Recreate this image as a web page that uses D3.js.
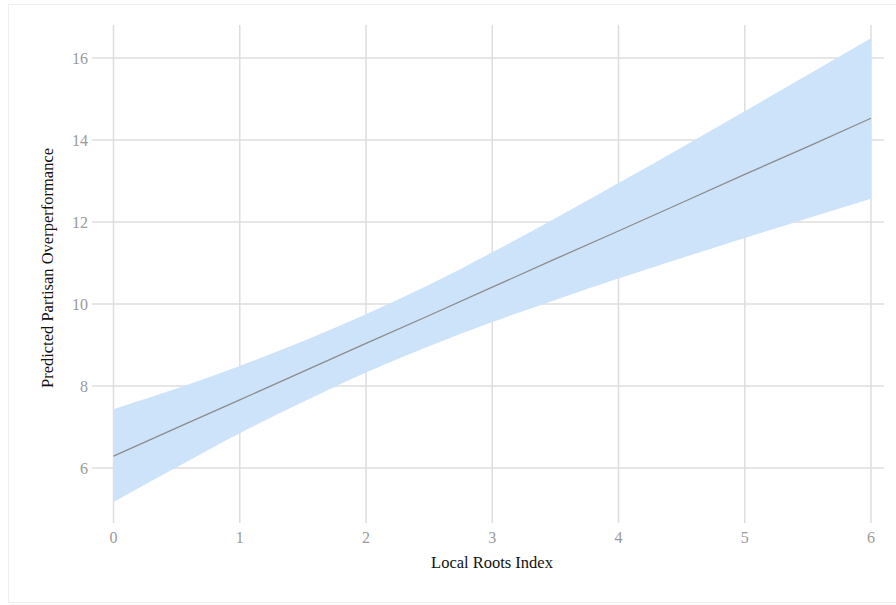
<!DOCTYPE html>
<html>
<head>
<meta charset="utf-8">
<script src="https://cdn.jsdelivr.net/npm/d3@7"></script>
<style>
  html, body { margin: 0; padding: 0; background: #fff; }
  svg { display: block; }
</style>
</head>
<body>
<svg id="chart" width="896" height="605"></svg>
<script>
// Predicted values and confidence band along the Local Roots Index
const xValues   = [0, 0.5, 1, 1.5, 2, 2.5, 3, 3.5, 4, 4.5, 5, 5.5, 6];
const predicted = [6.29, 6.98, 7.66, 8.35, 9.04, 9.72, 10.41, 11.10, 11.78, 12.47, 13.16, 13.84, 14.53];
const lowerCI   = [5.17, 6.02, 6.85, 7.61, 8.33, 8.97, 9.56, 10.10, 10.62, 11.12, 11.61, 12.09, 12.57];
const upperCI   = [7.43, 7.94, 8.49, 9.09, 9.75, 10.47, 11.26, 12.09, 12.95, 13.82, 14.70, 15.59, 16.48];
const xTicks = [0, 1, 2, 3, 4, 5, 6];
const yTicks = [6, 8, 10, 12, 14, 16];

const svg = d3.select("#chart");

// outer frame
svg.append("rect")
  .attr("x", 8.5).attr("y", 4.5).attr("width", 900).attr("height", 598)
  .attr("fill", "none").attr("stroke", "#f0f0f0").attr("stroke-width", 1);

const x = d3.scaleLinear().domain([0, 6]).range([113.5, 871]);
const y = d3.scaleLinear().domain([6, 16]).range([468, 58]);

const gridLeft = 92, gridRight = 884, gridTop = 25, gridBottom = 523;

// grid
svg.append("g").selectAll("line").data(yTicks).join("line")
  .attr("x1", gridLeft).attr("x2", gridRight)
  .attr("y1", d => y(d)).attr("y2", d => y(d))
  .attr("stroke", "#dedede").attr("stroke-width", 1.5);
svg.append("g").selectAll("line").data(xTicks).join("line")
  .attr("x1", d => x(d)).attr("x2", d => x(d))
  .attr("y1", gridTop).attr("y2", gridBottom)
  .attr("stroke", "#dedede").attr("stroke-width", 1.5);

const rows = xValues.map((v, i) => ({ x: v, p: predicted[i], lo: lowerCI[i], hi: upperCI[i] }));

// confidence band
svg.append("path").datum(rows)
  .attr("fill", "#cde3f9")
  .attr("d", d3.area().x(d => x(d.x)).y0(d => y(d.lo)).y1(d => y(d.hi)).curve(d3.curveMonotoneX));

// prediction line
svg.append("path").datum(rows)
  .attr("fill", "none").attr("stroke", "#8c8c8c").attr("stroke-width", 1.3)
  .attr("d", d3.line().x(d => x(d.x)).y(d => y(d.p)));

// tick labels
const font = "'Liberation Serif', 'Times New Roman', serif";
svg.append("g").selectAll("text").data(yTicks).join("text")
  .attr("x", 88).attr("y", d => y(d)).attr("dy", "0.35em")
  .attr("text-anchor", "end")
  .style("font-family", font).style("font-size", "16px").attr("fill", "#9a9a9a")
  .text(d => d);
svg.append("g").selectAll("text").data(xTicks).join("text")
  .attr("x", d => x(d)).attr("y", 537).attr("dy", "0.35em")
  .attr("text-anchor", "middle")
  .style("font-family", font).style("font-size", "16px").attr("fill", "#9a9a9a")
  .text(d => d);

// axis titles
svg.append("text")
  .attr("x", 492).attr("y", 562).attr("dy", "0.35em")
  .attr("text-anchor", "middle")
  .style("font-family", font).style("font-size", "16.5px").attr("fill", "#111")
  .text("Local Roots Index");
svg.append("text")
  .attr("transform", "translate(47,268) rotate(-90)")
  .attr("dy", "0.35em")
  .attr("text-anchor", "middle")
  .style("font-family", font).style("font-size", "16.5px").attr("fill", "#111")
  .text("Predicted Partisan Overperformance");
</script>
</body>
</html>
